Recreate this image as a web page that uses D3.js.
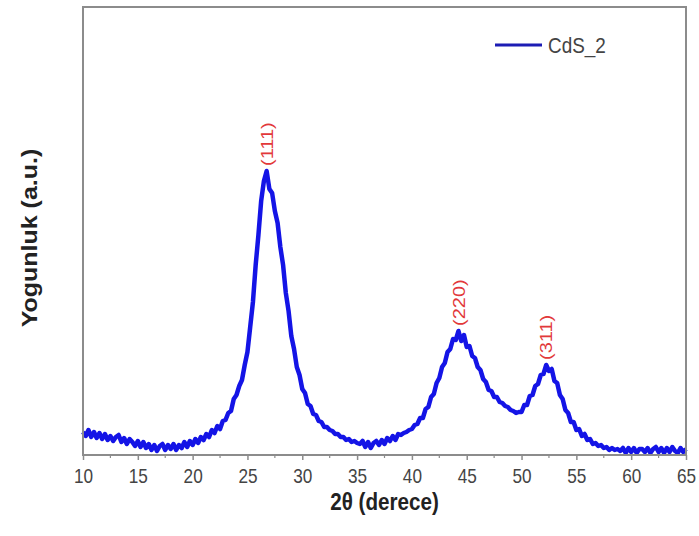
<!DOCTYPE html>
<html>
<head>
<meta charset="utf-8">
<script src="https://cdn.jsdelivr.net/npm/d3@7"></script>
<style>
    body { margin: 0; background: #fff; }
    svg { display: block; }
</style>
</head>
<body>
<div id="vis"></div>
<script>
const TWO_THETA = [
    10, 10.25, 10.5, 10.75, 11, 11.25, 11.5, 11.75, 12, 12.25, 12.5, 12.75, 13, 13.25, 13.5, 13.75, 14, 14.25, 14.5, 14.75,
    15, 15.25, 15.5, 15.75, 16, 16.25, 16.5, 16.75, 17, 17.25, 17.5, 17.75, 18, 18.25, 18.5, 18.75, 19, 19.25, 19.5, 19.75,
    20, 20.25, 20.5, 20.75, 21, 21.25, 21.5, 21.75, 22, 22.25, 22.5, 22.75, 23, 23.25, 23.5, 23.75, 24, 24.25, 24.5, 24.75,
    25, 25.25, 25.5, 25.75, 26, 26.25, 26.5, 26.75, 27, 27.25, 27.5, 27.75, 28, 28.25, 28.5, 28.75, 29, 29.25, 29.5, 29.75,
    30, 30.25, 30.5, 30.75, 31, 31.25, 31.5, 31.75, 32, 32.25, 32.5, 32.75, 33, 33.25, 33.5, 33.75, 34, 34.25, 34.5, 34.75,
    35, 35.25, 35.5, 35.75, 36, 36.25, 36.5, 36.75, 37, 37.25, 37.5, 37.75, 38, 38.25, 38.5, 38.75, 39, 39.25, 39.5, 39.75,
    40, 40.25, 40.5, 40.75, 41, 41.25, 41.5, 41.75, 42, 42.25, 42.5, 42.75, 43, 43.25, 43.5, 43.75, 44, 44.25, 44.5, 44.75,
    45, 45.25, 45.5, 45.75, 46, 46.25, 46.5, 46.75, 47, 47.25, 47.5, 47.75, 48, 48.25, 48.5, 48.75, 49, 49.25, 49.5, 49.75,
    50, 50.25, 50.5, 50.75, 51, 51.25, 51.5, 51.75, 52, 52.25, 52.5, 52.75, 53, 53.25, 53.5, 53.75, 54, 54.25, 54.5, 54.75,
    55, 55.25, 55.5, 55.75, 56, 56.25, 56.5, 56.75, 57, 57.25, 57.5, 57.75, 58, 58.25, 58.5, 58.75, 59, 59.25, 59.5, 59.75,
    60, 60.25, 60.5, 60.75, 61, 61.25, 61.5, 61.75, 62, 62.25, 62.5, 62.75, 63, 63.25, 63.5, 63.75, 64, 64.25, 64.5, 64.75,
    65
]

const INTENSITY = [
    23, 19, 25, 18, 23, 17, 22, 16, 21, 15, 19, 14, 18, 20, 13, 17, 11, 16, 13, 9,
    14, 8, 13, 7, 11, 5, 10, 4, 9, 11, 5, 10, 6, 11, 5, 10, 7, 13, 8, 14,
    10, 16, 12, 18, 15, 21, 18, 25, 22, 29, 26, 34, 35, 42, 44, 56, 60, 69, 75, 90,
    103, 128, 153, 190, 220, 254, 274, 284, 266, 262, 244, 232, 208, 190, 162, 144, 119, 106, 88, 80,
    66, 62, 51, 49, 41, 40, 34, 33, 28, 28, 25, 24, 21, 21, 18, 18, 15, 16, 13, 14,
    12, 11, 14, 8, 13, 7, 12, 14, 10, 15, 11, 17, 14, 19, 15, 21, 20, 22, 23, 25,
    26, 30, 31, 37, 37, 46, 48, 58, 61, 72, 77, 88, 92, 103, 106, 116, 115, 124, 114, 120,
    108, 109, 99, 97, 88, 85, 76, 73, 65, 64, 58, 58, 53, 52, 49, 48, 45, 44, 42, 43,
    43, 50, 50, 59, 60, 69, 71, 80, 81, 90, 84, 86, 74, 72, 60, 56, 45, 42, 33, 33,
    25, 26, 19, 21, 15, 16, 11, 12, 9, 10, 7, 8, 5, 7, 5, 6, 4, 7, 2, 7,
    3, 7, 2, 6, 6, 3, 7, 2, 6, 8, 3, 7, 2, 7, 3, 8, 4, 2, 7, 3,
    6
]

const X_TICKS = [10, 15, 20, 25, 30, 35, 40, 45, 50, 55, 60, 65]
const X_MINOR_TICKS = [12.5, 17.5, 22.5, 27.5, 32.5, 37.5, 42.5, 47.5, 52.5, 57.5, 62.5]

const PEAK_POS = [26.75, 44.25, 52.25]
const PEAK_LABELS = ['(111)', '(220)', '(311)']

const SERIES_NAME = 'CdS_2'
const X_TITLE = '2θ (derece)'
const Y_TITLE = 'Yogunluk (a.u.)'

const width = 699
const height = 536
const margin = {top: 7, right: 13, bottom: 81, left: 83}
const squeeze = 0.86

const blue = '#1414e6'
const frameColor = '#8c8c8c'
const textColor = '#444'
const font = 'Liberation Sans, Arial, sans-serif'

let svg = d3.select('#vis')
    .append('svg')
    .attr('width', width)
    .attr('height', height)

let x = d3.scaleLinear()
    .domain([10, 65])
    .range([margin.left, width - margin.right])

let y = d3.scaleLinear()
    .domain([0, 448])
    .range([height - margin.bottom, margin.top])

let data = TWO_THETA.map((t, i) => ({t: t, v: INTENSITY[i]}))

// narrow text like the original
function place(sel, px, py, rot) {
    return sel.attr('transform', `translate(${px},${py}) scale(${squeeze},1)` + (rot ? ` rotate(${rot})` : ''))
}

// curve
let line = d3.line()
    .x(d => x(d.t))
    .y(d => y(d.v))

svg.append('path')
    .datum(data)
    .attr('d', line)
    .attr('fill', 'none')
    .attr('stroke', blue)
    .attr('stroke-width', 4.5)
    .attr('stroke-linejoin', 'round')

// bottom axis
let xAxis = d3.axisBottom(x)
    .tickValues(X_TICKS)
    .tickSize(5)
    .tickFormat(d3.format('d'))

let gx = svg.append('g')
    .attr('transform', `translate(0,${height - margin.bottom})`)
    .call(xAxis)

gx.select('.domain').remove()
gx.selectAll('.tick line')
    .attr('stroke', frameColor)
    .attr('stroke-width', 1.5)
gx.selectAll('.tick text').each(function (d) {
    let t = d3.select(this)
    t.attr('y', null).attr('dy', null)
        .attr('fill', textColor)
        .style('font-family', font)
        .style('font-size', '20px')
    place(t, 0, 28)
})

gx.selectAll('.minor')
    .data(X_MINOR_TICKS)
    .enter().append('line')
    .attr('x1', d => x(d))
    .attr('x2', d => x(d))
    .attr('y1', 0)
    .attr('y2', 3)
    .attr('stroke', frameColor)
    .attr('stroke-width', 1.2)

// frame
svg.append('rect')
    .attr('x', margin.left)
    .attr('y', margin.top)
    .attr('width', width - margin.left - margin.right)
    .attr('height', height - margin.top - margin.bottom)
    .attr('fill', 'none')
    .attr('stroke', frameColor)
    .attr('stroke-width', 2)

// peak labels
PEAK_POS.forEach((p, i) => {
    let top = d3.max(data.filter(d => Math.abs(d.t - p) <= 0.5), d => d.v)
    let t = svg.append('text')
        .attr('fill', '#e2383a')
        .style('font-family', font)
        .style('font-size', '20px')
        .attr('dy', '0.35em')
        .text(PEAK_LABELS[i])
    place(t, x(p), y(top) - 5, -90)
})

// legend
let lx = 495
let ly = 45
svg.append('line')
    .attr('x1', lx)
    .attr('x2', lx + 47)
    .attr('y1', ly)
    .attr('y2', ly)
    .attr('stroke', '#1c1cb4')
    .attr('stroke-width', 3)
let legText = svg.append('text')
    .attr('fill', textColor)
    .style('font-family', font)
    .style('font-size', '22px')
    .text(SERIES_NAME)
place(legText, lx + 53, ly + 8)

// axis titles
let xt = svg.append('text')
    .attr('text-anchor', 'middle')
    .attr('fill', '#222')
    .style('font-family', font)
    .style('font-size', '24px')
    .style('font-weight', 'bold')
    .text(X_TITLE)
place(xt, (margin.left + width - margin.right) / 2, 510)

let yt = svg.append('text')
    .attr('text-anchor', 'middle')
    .attr('fill', '#222')
    .style('font-family', font)
    .style('font-size', '25px')
    .style('font-weight', 'bold')
    .text(Y_TITLE)
place(yt, 37, 238, -90)
</script>
</body>
</html>
